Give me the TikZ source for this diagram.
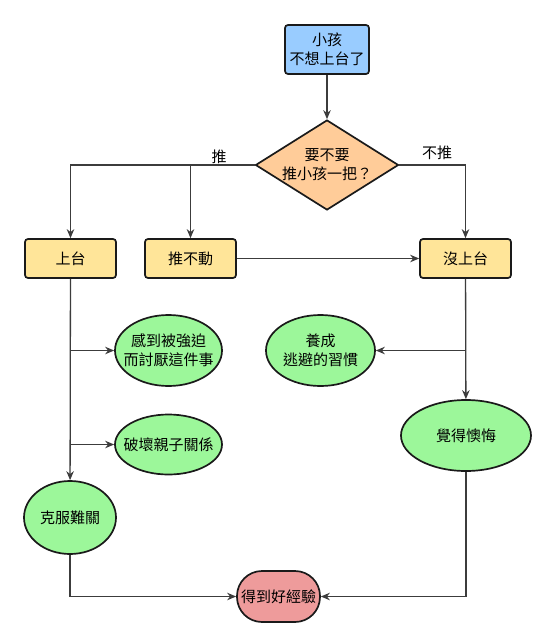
\documentclass[tikz,border=0pt]{standalone}
\usepackage{fontspec}
\setmainfont{Noto Sans CJK TC}
\usetikzlibrary{shapes.geometric,arrows.meta}
\definecolor{cblue}{HTML}{99CCFF}
\definecolor{corange}{HTML}{FFCC99}
\definecolor{cyellow}{HTML}{FFE599}
\definecolor{cgreen}{HTML}{9CF79A}
\definecolor{cred}{HTML}{EE9B9B}
\definecolor{cline}{HTML}{1A1A1A}
\tikzset{
  base/.style={draw=cline, line width=1.7pt, font=\fontsize{15}{19}\selectfont, align=center, inner sep=0pt},
  boxnode/.style={base, rectangle, rounded corners=3pt, minimum width=91pt, minimum height=39pt, fill=cyellow},
  ellnode/.style={base, ellipse, fill=cgreen},
  tightell/.style={ellnode, inner xsep=-8pt},
  conn/.style={draw=cline!85, line width=1.3pt, -{Stealth[length=9pt,width=7.5pt]}},
  lbl/.style={font=\fontsize{15}{17}\selectfont, inner sep=0pt}
}
\begin{document}
\begin{tikzpicture}[x={(1pt,0)}, y={(0,-1pt)}]
\useasboundingbox[fill=white] (0,0) rectangle (554,635);
\node[base, rectangle, rounded corners=3pt, minimum width=84pt, minimum height=49pt, fill=cblue] (start) at (327,49.5) {小孩\\不想上台了};
\node[base, diamond, aspect=1.6, minimum width=143pt, minimum height=90pt, fill=corange] (dia) at (327,165) {要不要\\推小孩一把？};
\node[boxnode] (up) at (70.5,258.5) {上台};
\node[boxnode] (push) at (190.5,258.5) {推不動};
\node[boxnode] (noup) at (465.5,258.5) {沒上台};
\node[tightell, minimum width=107pt, minimum height=71pt] (forced) at (168.5,350.5) {感到被強迫\\而討厭這件事};
\node[tightell, minimum width=107pt, minimum height=60pt] (break) at (168.5,444.5) {破壞親子關係};
\node[ellnode, minimum width=109pt, minimum height=71pt] (habit) at (320.5,350.5) {養成\\逃避的習慣};
\node[ellnode, minimum width=130pt, minimum height=71pt] (regret) at (466,435.5) {覺得懊悔};
\node[ellnode, minimum width=92pt, minimum height=73pt] (over) at (70,517.5) {克服難關};
\node[base, rectangle, rounded corners=25pt, minimum width=83pt, minimum height=51pt, fill=cred] (good) at (278.5,596.5) {得到好經驗};
\node[lbl] (lpush) at (219,157) {推};
\node[lbl] (lnopush) at (437,153) {不推};

\draw[conn] (start) -- (dia);
\draw[conn] (dia.west) -| (up.north);
\draw[conn] (dia.west) -| (push.north);
\draw[conn] (dia.east) -| (noup.north);
\draw[conn] (push) -- (noup);
\draw[conn] (up) -- (over);
\draw[conn] (up.south |- forced.west) -- (forced.west);
\draw[conn] (up.south |- break.west) -- (break.west);
\draw[conn] (noup) -- (regret);
\draw[conn] (noup.south |- habit.east) -- (habit.east);
\draw[conn] (over.south) |- (good.west);
\draw[conn] (regret.south) |- (good.east);
\end{tikzpicture}
\end{document}
